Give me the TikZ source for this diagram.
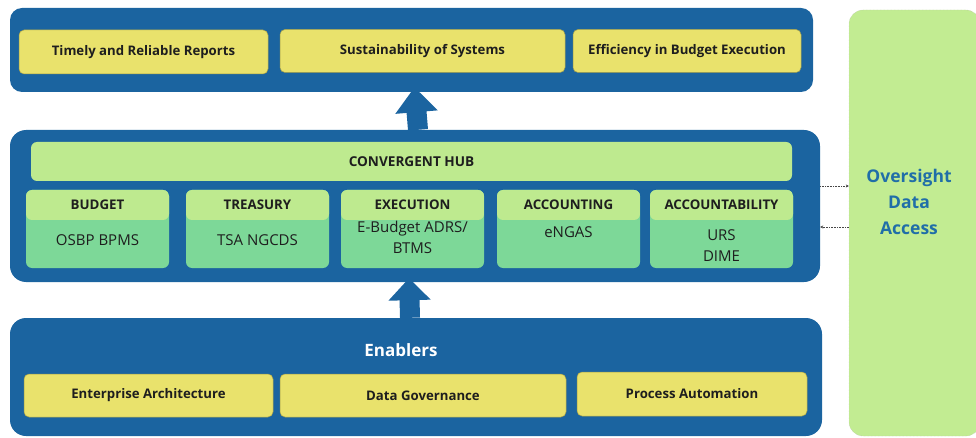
\documentclass[tikz,border=0pt]{standalone}
\usepackage{fontspec}
\setmainfont{Open Sans}
\usetikzlibrary{arrows.meta,positioning}

\definecolor{panelblue}{RGB}{27,100,160}
\definecolor{goalyellow}{RGB}{233,226,108}
\definecolor{hdgreen}{RGB}{190,234,143}
\definecolor{modgreen}{RGB}{125,216,152}
\definecolor{ovsgreen}{RGB}{194,236,146}
\definecolor{ovsblue}{RGB}{32,110,168}
\definecolor{inkdark}{RGB}{30,30,30}

\tikzset{
  panel/.style={fill=panelblue, rounded corners=12pt, inner sep=0pt},
  goal/.style={fill=goalyellow, draw=goalyellow!70!black, line width=0.5pt,
    rounded corners=5pt, inner sep=0pt, text=inkdark,
    font=\bfseries\fontsize{13.2}{15}\selectfont},
  hubbar/.style={fill=hdgreen, rounded corners=6pt, inner sep=0pt, text=inkdark,
    font=\bfseries\fontsize{13.6}{15}\selectfont},
  module/.style={fill=modgreen, rounded corners=6pt, inner sep=0pt,
    minimum width=143pt, minimum height=78pt,
    path picture={\fill[hdgreen] (path picture bounding box.north west)
      rectangle ([yshift=-30pt]path picture bounding box.north east);}},
  modhead/.style={text=inkdark, inner sep=0pt, font=\bfseries\fontsize{13.3}{15}\selectfont},
  modbody/.style={text=inkdark, inner sep=0pt, align=center,
    font=\fontsize{15}{21}\selectfont},
  liftarrow/.style={draw=panelblue, line width=20pt},
  dataflow/.style={draw=gray!55!black, densely dotted, line width=0.6pt, -{Stealth[length=3pt,width=3pt]}}
}

\begin{document}
\begin{tikzpicture}[x=1pt,y=-1pt]
  \useasboundingbox (0,0) rectangle (976,438);
  \clip (0,0) rectangle (976,438);

  % outcomes
  \node[panel, minimum width=803pt, minimum height=84pt] (top) at (411.5,50) {};
  \node[goal, minimum width=249pt, minimum height=44pt] (g1) at (143.5,52) {Timely and Reliable Reports};
  \node[goal, minimum width=285pt, minimum height=43pt] (g2) at (422.5,51) {Sustainability of Systems};
  \node[goal, minimum width=228pt, minimum height=43pt] (g3) at (687,51) {Efficiency in Budget Execution};

  % convergent hub
  \node[panel, rounded corners=16pt, minimum width=810pt, minimum height=152pt] (hub) at (415,206) {};
  \node[hubbar, minimum width=761pt, minimum height=39pt] (bar) at (411.5,161.5) {CONVERGENT HUB};
  \foreach \n/\cx/\head in {bud/97.5/BUDGET, tre/257.5/TREASURY, exe/412.5/EXECUTION,
      acc/568.5/ACCOUNTING, act/721.5/ACCOUNTABILITY} {
    \node[module] (\n) at (\cx,229) {};
    \node[modhead] (\n-h) at ([yshift=-15pt]\n.north) {\head};
  }
  \node[modbody] (bud-b) at ([yshift=-50pt]bud.north) {OSBP BPMS};
  \node[modbody] (tre-b) at ([yshift=-50pt]tre.north) {TSA NGCDS};
  \node[modbody] (exe-b) at ([yshift=-47.5pt]exe.north) {E-Budget ADRS/\\BTMS};
  \node[modbody] (acc-b) at ([yshift=-42pt]acc.north) {eNGAS};
  \node[modbody] (act-b) at ([yshift=-55.5pt]act.north) {URS\\DIME};

  % enablers
  \node[panel, rounded corners=16pt, minimum width=812pt, minimum height=118pt] (en) at (416,377) {};
  \node[text=white, font=\bfseries\fontsize{17}{19}\selectfont] (en-t) at (401,350) {Enablers};
  \node[goal, minimum width=249pt, minimum height=43pt] (e1) at (148.5,395.5) {Enterprise Architecture};
  \node[goal, minimum width=286pt, minimum height=43pt] (e2) at (423,395.5) {Data Governance};
  \node[goal, minimum width=230pt, minimum height=44pt] (e3) at (692,394) {Process Automation};

  % block arrows between the layers
  \draw[liftarrow, -{Triangle[width=41pt,length=25pt]}] ([xshift=3pt]hub.north) -- ([xshift=3pt,yshift=5pt]top.south);
  \draw[liftarrow, -{Triangle[width=41pt,length=22pt]}] ([xshift=-6pt]en.north) -- ([xshift=-6pt,yshift=4pt]hub.south);

  % oversight access
  \node[fill=ovsgreen, draw=gray!60, densely dotted, rounded corners=14pt, inner sep=0pt,
    minimum width=131pt, minimum height=426pt] (ovs) at (914.5,223) {};
  \node[text=ovsblue, align=center, font=\bfseries\fontsize{17.5}{26}\selectfont] (ovs-t) at (909,202)
    {Oversight\\Data\\Access};
  \draw[dataflow] ([yshift=20pt]hub.east) -- ([yshift=20pt]hub.east -| ovs.west);
  \draw[dataflow] ([yshift=-21pt]hub.east -| ovs.west) -- ([yshift=-21pt]hub.east);
\end{tikzpicture}
\end{document}
